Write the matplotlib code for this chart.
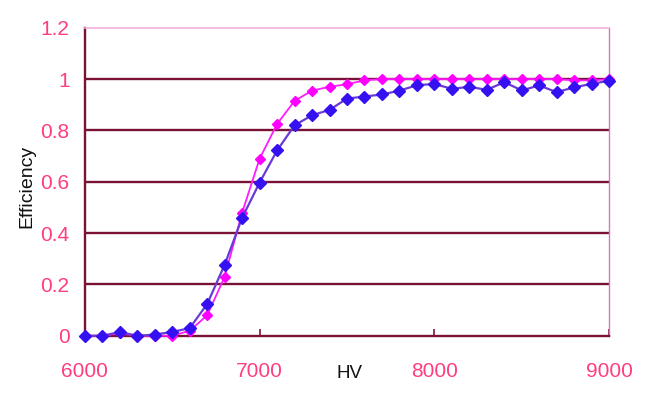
import numpy as np
import matplotlib.pyplot as plt

# HV scan, one point every 100 V
hv = np.arange(6000, 9001, 100)

eff_pink = [0.0, 0.0, 0.01, 0.0, 0.0, 0.0, 0.02, 0.08, 0.23, 0.48, 0.69, 0.825,
            0.915, 0.955, 0.97, 0.98, 0.995, 1.0, 1.0, 1.0, 1.0, 1.0, 1.0, 1.0,
            1.0, 1.0, 1.0, 1.0, 0.995, 0.995, 1.0]
eff_blue = [0.0, 0.0, 0.015, 0.0, 0.005, 0.015, 0.03, 0.124, 0.277, 0.46, 0.597, 0.722,
            0.82, 0.859, 0.88, 0.924, 0.932, 0.94, 0.955, 0.976, 0.981, 0.962, 0.97, 0.958,
            0.988, 0.956, 0.975, 0.949, 0.968, 0.981, 0.994]

xticks = [6000, 7000, 8000, 9000]
yticks = [0, 0.2, 0.4, 0.6, 0.8, 1.0, 1.2]
ylabels = ["0", "0.2", "0.4", "0.6", "0.8", "1", "1.2"]

plt.rcParams['font.family'] = ['Liberation Sans', 'DejaVu Sans']
tick_col = "#ff3d7f"
grid_col = "#7a1238"

fig = plt.figure(figsize=(6.48, 3.96), dpi=100)
ax = fig.add_axes([0.131, 0.152, 0.809, 0.778])

for y in yticks[1:-1]:
    ax.axhline(y, color=grid_col, lw=1.7, zorder=1)

ax.plot(hv, eff_pink, color="#ff1aff", lw=1.3, marker="D", ms=5.5,
        mfc="#ff00ff", mec="#ff00ff", zorder=3, clip_on=False)
ax.plot(hv, eff_blue, color="#6b3ad6", lw=1.6, marker="D", ms=6,
        mfc="#3510f0", mec="#3510f0", zorder=4, clip_on=False)

ax.set_xlim(6000, 9000)
ax.set_ylim(0, 1.2)
ax.set_xticks(xticks)
ax.set_xticklabels([str(v) for v in xticks])
ax.set_yticks(yticks)
ax.set_yticklabels(ylabels)

ax.tick_params(axis="x", direction="in", length=5, width=1.2, color=grid_col,
               labelsize=15, labelcolor=tick_col, pad=19)
ax.tick_params(axis="y", length=0, labelsize=15, labelcolor=tick_col, pad=11)

ax.spines["left"].set_color(grid_col)
ax.spines["left"].set_linewidth(1.7)
ax.spines["bottom"].set_color(grid_col)
ax.spines["bottom"].set_linewidth(1.7)
ax.spines["top"].set_color("#f2b0dc")
ax.spines["top"].set_linewidth(1.2)
ax.spines["right"].set_color("#d877b8")
ax.spines["right"].set_linewidth(1.0)

fig.text(0.54, 0.058, "HV", fontsize=13.5, color="#111111", ha="center", va="center")
fig.text(0.042, 0.53, "Efficiency", fontsize=14, color="#111111",
         rotation=90, ha="center", va="center")

fig.savefig("out.png", dpi=100)
